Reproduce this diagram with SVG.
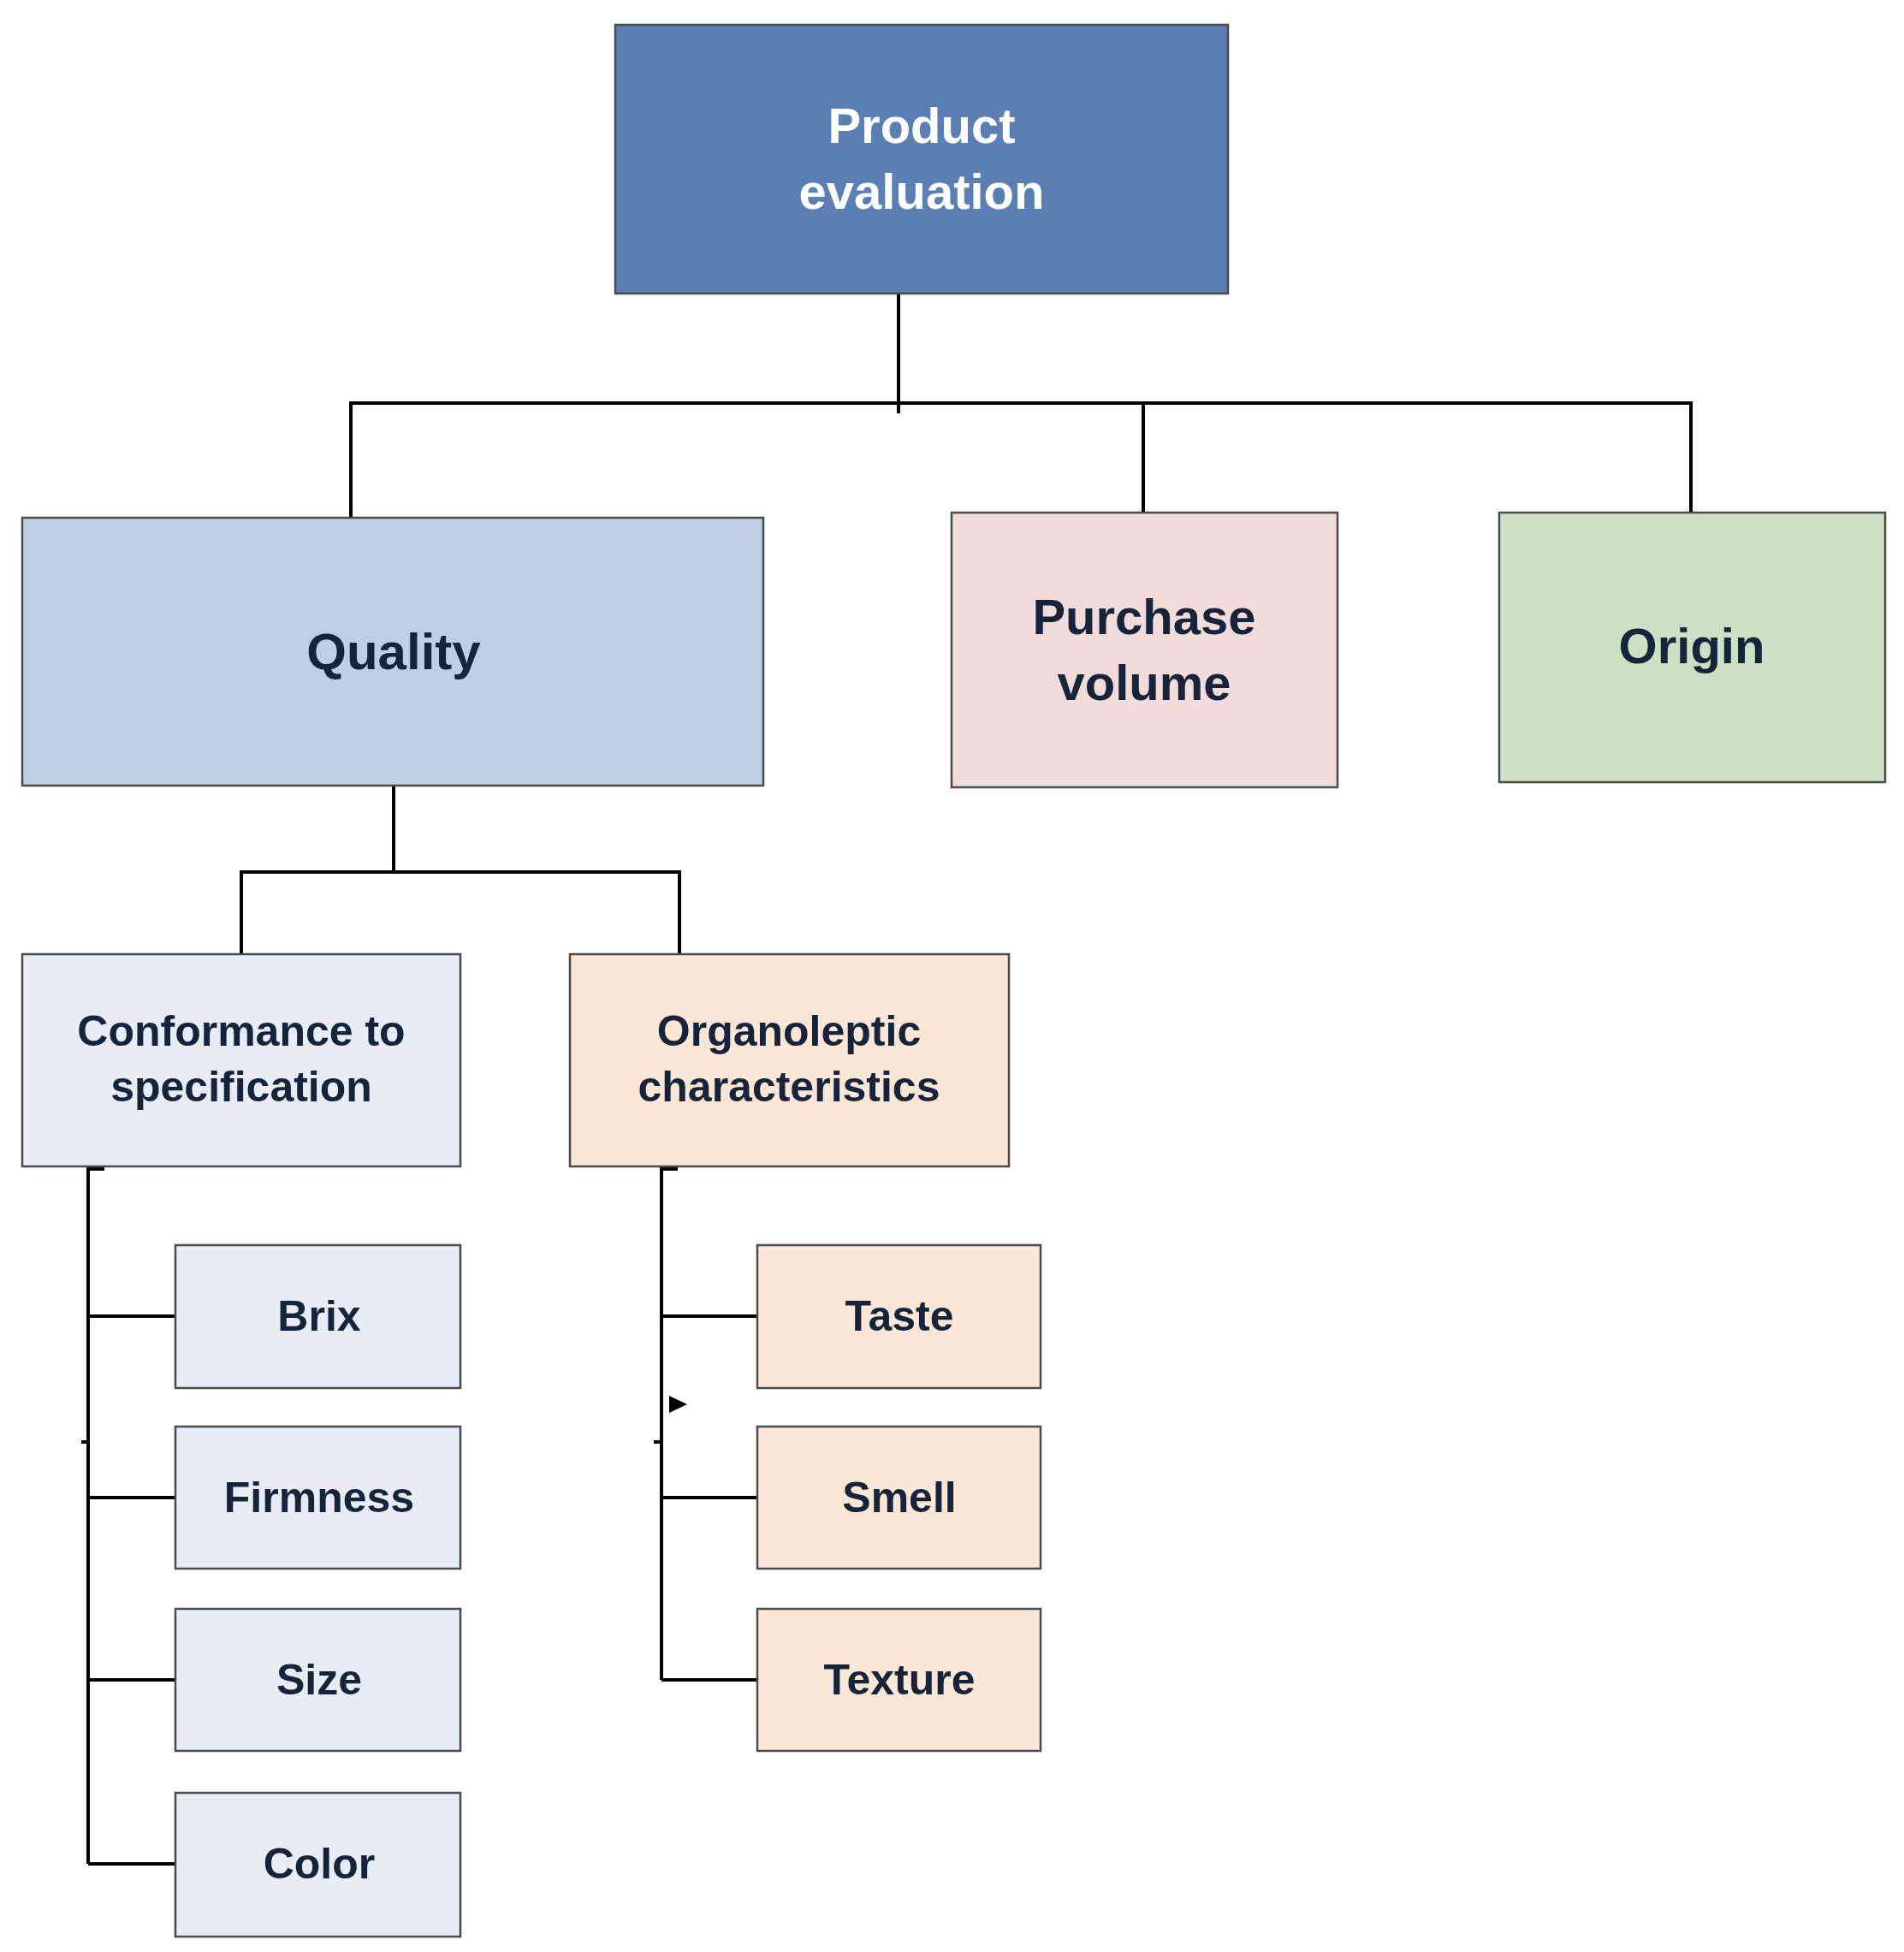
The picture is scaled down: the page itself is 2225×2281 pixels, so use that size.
<svg xmlns="http://www.w3.org/2000/svg" width="2225" height="2281" viewBox="0 0 2225 2281">
<style>
rect{stroke:#4a4a4a;stroke-width:2.5}
text{font-family:"Liberation Sans",Arial,sans-serif;font-weight:bold;fill:#15233b;text-anchor:middle;dominant-baseline:central}
.c line,.c path{stroke:#000;stroke-width:4;fill:none}
</style>
<rect width="2225" height="2281" fill="#fff" style="stroke:none"/>
<g class="c" id="connectors">
<path d="M1050 343V483M410 605V471H1976V599M1336 471V599"/>
<path d="M460 918V1019M282 1115V1019H794V1115"/>
<path d="M103 1363V2178M103 1366H122M103 1538H215M103 1750H215M103 1963H215M103 2178H205M95 1685H103"/>
<path d="M773 1363V1963M773 1366H792M773 1538H885M773 1750H885M773 1963H885M764 1685H773"/>
<polygon points="782,1631 803,1641 782,1651" fill="#000" stroke="none"/>
</g>
<g id="product"><rect x="719" y="29" width="716" height="314" fill="#5a80b3"/><text x="1077" y="146" font-size="58" style="fill:#fff">Product</text><text x="1077" y="223" font-size="58" style="fill:#fff">evaluation</text></g>
<g id="quality"><rect x="26" y="605" width="866" height="313" fill="#bfcfe3"/><text x="460" y="761" font-size="60">Quality</text></g>
<g id="purchase"><rect x="1112" y="599" width="451" height="321" fill="#f1dcda"/><text x="1337" y="720" font-size="58">Purchase</text><text x="1337" y="797" font-size="58">volume</text></g>
<g id="origin"><rect x="1752" y="599" width="451" height="315" fill="#cde0c2"/><text x="1977" y="754" font-size="58">Origin</text></g>
<g id="conformance"><rect x="26" y="1115" width="512" height="248" fill="#e8edf5"/><text x="282" y="1205" font-size="50">Conformance to</text><text x="282" y="1270" font-size="50">specification</text></g>
<g id="organoleptic"><rect x="666" y="1115" width="513" height="248" fill="#fce7d7"/><text x="922" y="1205" font-size="50">Organoleptic</text><text x="922" y="1270" font-size="50">characteristics</text></g>
<g id="brix"><rect x="205" y="1455" width="333" height="167" fill="#e8edf5"/><text x="373" y="1538" font-size="50">Brix</text></g>
<g id="firmness"><rect x="205" y="1667" width="333" height="166" fill="#e8edf5"/><text x="373" y="1750" font-size="50">Firmness</text></g>
<g id="size"><rect x="205" y="1880" width="333" height="166" fill="#e8edf5"/><text x="373" y="1963" font-size="50">Size</text></g>
<g id="color"><rect x="205" y="2095" width="333" height="168" fill="#e8edf5"/><text x="373" y="2178" font-size="50">Color</text></g>
<g id="taste"><rect x="885" y="1455" width="331" height="167" fill="#fce7d7"/><text x="1051" y="1538" font-size="50">Taste</text></g>
<g id="smell"><rect x="885" y="1667" width="331" height="166" fill="#fce7d7"/><text x="1051" y="1750" font-size="50">Smell</text></g>
<g id="texture"><rect x="885" y="1880" width="331" height="166" fill="#fce7d7"/><text x="1051" y="1963" font-size="50">Texture</text></g>
</svg>
